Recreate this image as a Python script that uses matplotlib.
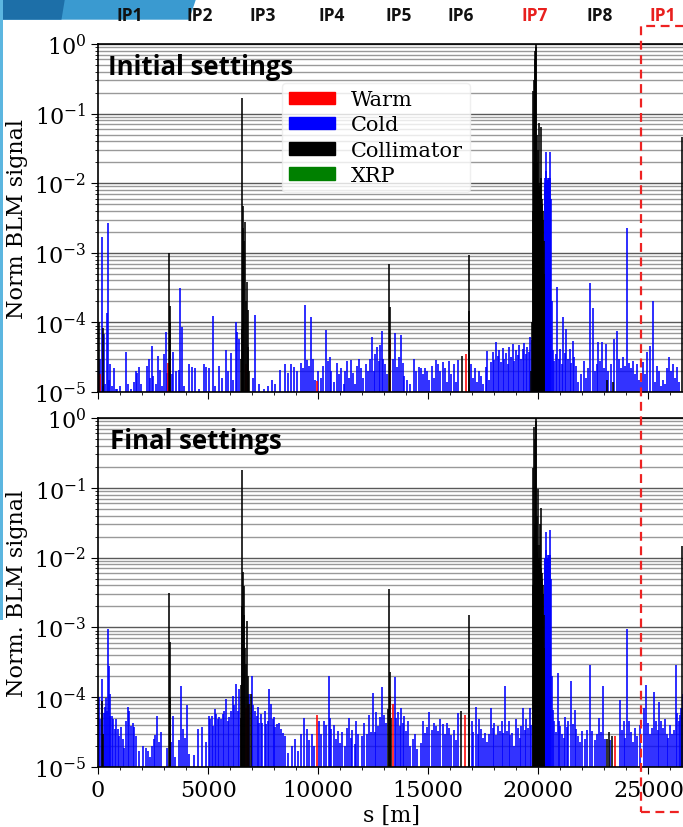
import matplotlib
matplotlib.use("Agg")
import matplotlib.pyplot as plt
from matplotlib.patches import Patch, Rectangle, Polygon
from matplotlib.ticker import LogLocator, MultipleLocator

# -------------------------------------------
# Loss map data (s [m], normalised BLM signal)
# -------------------------------------------
init_cold_s = [40, 90, 170, 230, 270, 330, 395, 440, 490, 545, 620, 720, 800, 860, 1000,
               1270, 1360, 1520, 1650, 1720, 1790, 1860, 1950, 2220, 2300, 2380, 2440, 2520,
               2620, 2710, 2800, 2900, 3000, 3080, 3150, 3350, 3420, 3560, 3680, 3730, 3800,
               3900, 4120, 4250, 4400, 4580, 4800, 4900, 5050, 5210, 5330, 5500, 5620, 5800,
               5900, 6050, 6150, 6270, 6330, 6420, 7050, 7140, 7300, 7520, 7700, 7900, 8050,
               8250, 8500, 8650, 8780, 8900, 9050, 9200, 9300, 9410, 9500, 9600, 9680, 9760,
               9850, 10000, 10120, 10220, 10360, 10450, 10520, 10600, 10700, 10850, 10950,
               11050, 11150, 11230, 11300, 11400, 11500, 11580, 11650, 11750, 11850, 11950,
               12050, 12150, 12250, 12350, 12440, 12530, 12600, 12680, 12750, 12820, 12890,
               12960, 13050, 13130, 13400, 13500, 13580, 13650, 13770, 13850, 13920, 14050,
               14150, 14350, 14450, 14560, 14650, 14750, 14850, 14950, 15050, 15150, 15250,
               15350, 15450, 15550, 15650, 15750, 15850, 15950, 16050, 16150, 16250, 16350,
               16950, 17050, 17120, 17200, 17300, 17400, 17500, 17600, 17660, 17750, 17850,
               17920, 18000, 18080, 18150, 18230, 18300, 18380, 18450, 18520, 18600, 18680,
               18760, 18830, 18900, 18980, 19060, 19130, 19200, 19280, 19350, 19430, 19500,
               19570, 19630, 19690,
               20280, 20300, 20320, 20340, 20360, 20380, 20400, 20420, 20440, 20460, 20480,
               20500, 20520, 20545, 20570, 20600,
               20650, 20720, 20800, 20860, 20930, 21000, 21060, 21120, 21200, 21270, 21350,
               21420, 21490, 21560, 21640, 21720, 21800, 21950, 22060, 22150, 22250, 22360,
               22470, 22560, 22650, 22730, 22820, 22900, 22980, 23050, 23180, 23300, 23450,
               23590, 23680, 23760, 23850, 23950, 24030, 24100, 24200, 24280, 24380, 24480,
               24560, 24650, 24760, 24850, 24940, 25090, 25210, 25300, 25400, 25480, 25560,
               25650, 25750, 25850, 25950, 26030, 26120, 26200, 26300, 26400, 26600]
init_cold_v = [2.0e-5, 3.0e-5, 1.7e-3, 1.2e-5, 6.8e-5, 1.3e-5, 1.35e-4, 2.7e-3, 1.5e-5, 2.5e-5,
               1.2e-5, 2.2e-5, 1.1e-5, 1.1e-5, 1.2e-5,
               3.7e-5, 1.3e-5, 1.1e-5, 1.4e-5, 2.0e-5, 1.9e-5, 2.3e-5, 1.3e-5, 2.4e-5, 3.0e-5,
               1.6e-5, 4.6e-5, 1.7e-5, 1.3e-5, 3.3e-5, 2.1e-5, 1.2e-5, 3.5e-5, 7.3e-5, 1.9e-5,
               1.8e-5, 3.7e-5, 2.0e-5, 2.1e-5, 3.1e-4, 8.7e-5, 1.2e-5, 2.5e-5, 2.3e-5, 2.2e-5,
               1.1e-5, 2.5e-5, 2.3e-5, 2.2e-5, 1.24e-4, 1.2e-5, 2.4e-5, 1.6e-5, 4.0e-5, 2.0e-5,
               3.6e-5, 1.5e-5, 1.0e-4, 7.3e-5, 5.7e-5, 1.6e-5, 1.28e-4, 1.3e-5, 1.1e-5, 1.2e-5,
               1.5e-5, 1.3e-5, 2.1e-5, 2.5e-5, 1.9e-5, 2.5e-5, 2.3e-5, 2.0e-5, 2.6e-5, 2.2e-5,
               1.8e-4, 2.9e-5, 2.4e-5, 1.2e-4, 3.0e-5, 1.5e-5, 2.0e-5, 1.6e-5, 2.4e-5, 7.8e-5,
               2.8e-5, 3.2e-5, 2.0e-5, 1.4e-5, 2.6e-5, 1.8e-5, 2.2e-5, 1.3e-5, 2.0e-5, 2.8e-5,
               1.6e-5, 2.9e-5, 1.9e-5, 1.3e-5, 2.4e-5, 3.0e-5, 2.2e-5, 1.6e-5, 2.5e-5, 2.0e-5,
               3.0e-5, 6.2e-5, 2.0e-5, 3.5e-5, 4.5e-5, 2.8e-5, 4.8e-5, 7.5e-5, 3.0e-5, 2.5e-5,
               1.8e-5, 3.0e-5, 7.0e-5, 2.3e-5, 3.2e-5, 6.6e-5, 2.6e-5, 1.7e-5, 1.5e-5, 1.3e-5,
               3.0e-5, 2.0e-5, 2.3e-5, 2.2e-5, 1.8e-5, 2.2e-5, 2.0e-5, 1.5e-5, 2.4e-5, 1.6e-5,
               2.9e-5, 2.5e-5, 2.0e-5, 2.7e-5, 2.2e-5, 1.4e-5, 2.8e-5, 1.8e-5, 2.5e-5, 1.4e-5,
               2.9e-5, 2.5e-5, 1.6e-5, 2.2e-5, 1.4e-5, 2.0e-5, 1.7e-5, 1.3e-5, 2.3e-5, 3.9e-5,
               1.5e-5, 2.7e-5, 3.8e-5, 2.9e-5, 5.2e-5, 3.3e-5, 4.0e-5, 2.7e-5, 4.3e-5, 3.0e-5,
               3.6e-5, 2.5e-5, 4.5e-5, 3.2e-5, 4.9e-5, 2.8e-5, 4.0e-5, 3.4e-5, 4.8e-5, 3.0e-5,
               4.2e-5, 5.0e-5, 3.5e-5, 4.5e-5, 3.8e-5, 6.2e-5, 5.5e-5,
               8.0e-3, 1.2e-2, 1.0e-2, 1.5e-2, 2.8e-2, 1.0e-2, 1.1e-2, 1.2e-2, 1.0e-2, 1.1e-2,
               1.2e-2, 1.1e-2, 1.2e-2, 2.8e-2, 6.0e-3, 2.0e-4,
               4.0e-5, 2.8e-5, 3.5e-5, 3.2e-4, 3.0e-5, 4.2e-5, 2.5e-5, 1.2e-4, 3.6e-5, 8.0e-5,
               3.0e-5, 4.2e-5, 2.6e-5, 5.4e-5, 3.2e-5, 2.4e-5, 1.4e-5, 1.8e-5, 2.8e-5, 1.6e-5,
               2.2e-5, 3.7e-4, 1.6e-4, 2.0e-5, 2.5e-5, 5.2e-5, 2.8e-5, 5.2e-5, 2.2e-5, 4.9e-5,
               2.0e-5, 2.5e-5, 5.7e-5, 7.5e-5, 3.0e-5, 2.2e-5, 3.2e-5, 2.4e-5, 2.3e-3, 2.6e-5,
               2.2e-5, 2.8e-5, 1.8e-5, 2.5e-5, 1.5e-5, 1.4e-5, 2.7e-5, 1.8e-5, 3.8e-5, 4.6e-5,
               2.0e-4, 1.4e-5, 2.4e-5, 2.0e-5, 1.2e-5, 1.5e-5, 1.3e-5, 2.2e-5, 3.2e-5, 2.0e-5,
               2.5e-5, 1.6e-5, 2.3e-5, 1.4e-5, 3.0e-4]

init_coll_s = [60, 210, 3240, 3265, 3290,
               6480, 6520, 6545, 6580, 6605, 6640, 6680, 6710, 6760, 6800, 6830, 6870,
               13210, 13240, 16530, 16830, 16860,
               19650, 19700, 19740, 19760, 19780, 19800, 19820, 19840, 19860, 19880, 19900,
               19920, 19940, 19960, 19980, 20000, 20020, 20040, 20060, 20080, 20100, 20120,
               20140, 20160, 20180, 20200, 20220, 20240, 20260,
               23120, 23400, 26530]
init_coll_v = [1.0e-4, 8.3e-5, 1.0e-3, 1.7e-4, 1.0e-4,
               3.0e-5, 8.0e-5, 0.17, 2.3e-3, 4.7e-3, 1.5e-3, 2.8e-3, 2.0e-4, 3.8e-4, 1.5e-4,
               4.5e-5, 2.0e-5,
               6.9e-4, 1.66e-4, 3.3e-5, 9.3e-4, 1.45e-4,
               2.0e-5, 1.0e-4, 4.0e-3, 0.21, 1.5e-2, 0.3, 2.0e-2, 0.6, 0.8, 1.0, 0.9,
               5.0e-2, 2.0e-2, 1.2e-2, 1.0e-2, 3.0e-2, 7.3e-2, 9.0e-3, 8.0e-3, 1.0e-2, 7.0e-3,
               1.2e-2, 6.5e-2, 6.0e-3, 5.0e-3, 4.0e-3, 3.0e-3, 1.5e-3, 5.0e-4,
               1.5e-5, 1.4e-5, 4.6e-2]

init_warm_s = [90, 3180, 6700, 9940, 13270, 16700]
init_warm_v = [1.8e-5, 2.6e-5, 2.5e-5, 1.45e-5, 5.8e-5, 3.5e-5]

final_cold_s = [40, 90, 170, 260, 320, 380, 420, 455, 500, 530, 560, 620, 700, 760, 820, 890,
                950, 1060, 1140, 1200, 1270, 1340, 1420, 1480, 1570, 1630, 1710, 1860, 2060,
                2160, 2290, 2360, 2450, 2530, 2600, 2660, 2770, 2860, 3120, 3330, 3390, 3500,
                3660, 3760, 3850, 3970, 4060, 4120, 4380, 4550, 4730, 4910, 5030, 5090, 5180,
                5240, 5300, 5360, 5440, 5510, 5590, 5660, 5740, 5820, 5890, 5970, 6040, 6120,
                6180, 6270, 6340, 6420, 6800, 6870, 6990, 7050, 7140, 7200, 7270, 7330, 7400,
                7460, 7570, 7630, 7700, 7780, 7870, 7930, 8000, 8050, 8130, 8220, 8300, 8420,
                8500, 8650, 8800, 8950, 9100, 9200, 9360, 9500, 9600, 9700, 9800, 10050, 10150,
                10260, 10350, 10470, 10550, 10600, 10700, 10800, 10900, 11000, 11100, 11200,
                11300, 11400, 11480, 11550, 11650, 11730, 11820, 12000, 12100, 12200, 12300,
                12400, 12480, 12560, 12640, 12720, 12800, 12920, 12990, 13060, 13480, 13550,
                13620, 13700, 13780, 13850, 13920, 14000, 14080, 14180, 14300, 14400, 14500,
                14650, 14750, 14850, 14950, 15050, 15150, 15250, 15350, 15450, 15550, 15650,
                15750, 15850, 15950, 16050, 16150, 16250, 16350, 16980, 17050, 17170, 17250,
                17320, 17400, 17500, 17560, 17650, 17750, 17850, 17930, 18000, 18080, 18160,
                18250, 18330, 18400, 18470, 18560, 18650, 18720, 18800, 18900, 18980, 19060,
                19150, 19230, 19300, 19380, 19450, 19530, 19620, 19680,
                20280, 20300, 20320, 20340, 20360, 20380, 20400, 20420, 20440, 20460, 20480,
                20500, 20520, 20545, 20570, 20600,
                20650, 20720, 20780, 20880, 20950, 21000, 21080, 21150, 21220, 21300, 21360,
                21490, 21560, 21650, 21720, 21800, 21900, 21990, 22100, 22200, 22330, 22420,
                22550, 22660, 22760, 22850, 22940, 23020, 23250, 23700, 23800, 23880, 23950,
                24030, 24120, 24200, 24290, 24400, 24500, 24620, 24780, 24890, 24980, 25060,
                25150, 25240, 25330, 25420, 25500, 25580, 25660, 25750, 25820, 25900, 25980,
                26060, 26150, 26230, 26300, 26380, 26440, 26500, 26580]
final_cold_v = [1.0e-4, 4.9e-5, 1.8e-4, 6.0e-5, 7.2e-5, 9.6e-5, 6.4e-5, 9.5e-4, 2.8e-4, 5.4e-5,
                1.1e-4, 5.3e-5, 4.9e-5, 3.5e-5, 4.9e-5, 3.5e-5, 2.8e-5, 3.7e-5, 2.5e-5, 1.9e-5,
                4.6e-5, 7.2e-5, 6.4e-5, 3.9e-5, 4.3e-5, 3.7e-5, 2.8e-5, 1.7e-5, 2.0e-5, 1.9e-5,
                1.7e-5, 1.4e-5, 2.0e-5, 2.5e-5, 2.9e-5, 5.4e-5, 2.3e-5, 3.2e-5, 1.9e-5, 2.3e-5,
                5.4e-5, 1.4e-5, 2.4e-5, 1.43e-4, 3.5e-5, 2.6e-5, 7.7e-5, 1.55e-5, 1.5e-5, 3.5e-5,
                3.7e-5, 2.3e-5, 5.4e-5, 4.9e-5, 5.4e-5, 3.9e-5, 6.8e-5, 5.8e-5, 4.9e-5, 5.2e-5,
                4.9e-5, 5.8e-5, 6.4e-5, 9.4e-5, 4.6e-5, 5.2e-5, 6.4e-5, 1.05e-4, 7.6e-5, 1.55e-4,
                6.4e-5, 1.3e-4, 7.6e-5, 1.1e-4, 2.0e-4, 7.6e-5, 6.4e-5, 5.4e-5, 7.2e-5, 4.3e-5,
                5.8e-5, 4.3e-5, 6.4e-5, 4.1e-5, 4.6e-5, 1.3e-4, 8.0e-5, 4.9e-5, 5.2e-5, 3.7e-5,
                4.1e-5, 4.3e-5, 3.5e-5, 3.1e-5, 2.8e-5, 1.6e-5, 2.0e-5, 2.5e-5, 1.7e-5, 3.0e-5,
                5.0e-5, 3.5e-5, 2.4e-5, 3.0e-5, 2.0e-5, 4.5e-5, 3.0e-5, 4.5e-5, 4.0e-5, 2.0e-4,
                5.0e-5, 3.5e-5, 4.0e-5, 2.5e-5, 3.3e-5, 2.2e-5, 3.2e-5, 2.0e-5, 3.6e-5, 5.1e-5,
                2.6e-5, 3.4e-5, 2.1e-5, 4.5e-5, 3.0e-5, 2.8e-5, 4.2e-5, 3.0e-5, 5.5e-5, 3.2e-5,
                1.15e-4, 3.2e-5, 6.2e-5, 3.9e-5, 5.2e-5, 1.4e-4, 5.6e-5, 4.3e-5, 1.95e-4, 5.0e-5,
                6.1e-5, 3.9e-5, 7.0e-5, 4.2e-5, 5.4e-5, 3.3e-5, 4.5e-5, 2.0e-5, 2.5e-5, 3.0e-5,
                1.8e-5, 2.2e-5, 4.5e-5, 3.1e-5, 3.8e-5, 6.1e-5, 3.4e-5, 4.3e-5, 3.9e-5, 3.3e-5,
                4.8e-5, 4.1e-5, 3.0e-5, 4.3e-5, 3.6e-5, 2.9e-5, 3.4e-5, 2.4e-5, 5.9e-5, 4.5e-5,
                3.2e-5, 7.2e-5, 3.0e-5, 4.8e-5, 3.5e-5, 2.6e-5, 3.1e-5, 2.3e-5, 3.0e-5, 6.9e-5,
                3.6e-5, 4.3e-5, 2.9e-5, 3.9e-5, 3.3e-5, 4.5e-5, 3.1e-5, 1.46e-4, 3.3e-5, 4.5e-5,
                2.9e-5, 3.1e-5, 2.0e-5, 4.8e-5, 3.6e-5, 2.6e-5, 3.9e-5, 7.0e-5, 3.4e-5, 4.8e-5,
                3.6e-5, 7.0e-5, 4.0e-5,
                7.0e-3, 1.0e-2, 9.5e-3, 1.3e-2, 2.3e-2, 9.5e-3, 1.0e-2, 1.1e-2, 9.5e-3, 1.0e-2,
                1.1e-2, 1.0e-2, 1.1e-2, 2.5e-2, 5.0e-3, 2.0e-4,
                6.5e-5, 4.5e-5, 3.2e-5, 2.2e-4, 4.5e-5, 3.9e-5, 3.0e-5, 2.6e-5, 5.2e-5, 3.7e-5,
                4.5e-5, 1.7e-4, 4.1e-5, 6.5e-5, 3.5e-5, 2.8e-5, 2.3e-5, 3.3e-5, 2.5e-5, 3.4e-5,
                2.9e-4, 3.3e-5, 2.4e-5, 3.0e-5, 5.0e-5, 3.2e-5, 1.46e-4, 2.5e-5, 2.4e-5, 9.1e-5,
                3.4e-5, 4.5e-5, 2.6e-5, 9.5e-4, 4.5e-5, 3.2e-5, 2.3e-5, 3.6e-5, 2.8e-5, 4.0e-5,
                6.9e-5, 1.5e-4, 4.2e-5, 3.0e-5, 3.6e-5, 1.2e-4, 4.5e-5, 3.4e-5, 8.5e-5, 4.6e-5,
                3.6e-5, 4.8e-5, 3.0e-5, 2.6e-5, 4.0e-5, 3.0e-5, 3.4e-5, 2.9e-4, 6.0e-5, 4.5e-5,
                5.5e-5, 7.0e-5, 1.1e-4]

final_coll_s = [170, 230, 3240, 3265, 3290,
                6480, 6510, 6530, 6560, 6580, 6610, 6640, 6680, 6720, 6760, 6800, 6860, 6940,
                13150, 13210, 13240, 13320, 16500, 16830, 16860,
                19740, 19770, 19790, 19820, 19840, 19860, 19880, 19900, 19920, 19940, 19960,
                19980, 20000, 20020, 20040, 20060, 20090, 20110, 20140, 20160, 20180, 20200,
                20220, 20240, 20260,
                23120, 23200, 23330, 26530]
final_coll_v = [8.9e-5, 3.0e-5, 3.1e-3, 6.1e-4, 1.0e-4,
                5.0e-5, 1.5e-4, 0.18, 2.0e-3, 6.2e-3, 1.5e-3, 3.9e-3, 5.0e-4, 3.0e-4, 1.25e-3,
                2.0e-4, 8.0e-5, 1.1e-4,
                6.8e-5, 3.5e-3, 2.3e-4, 5.0e-5, 6.4e-5, 1.5e-3, 2.5e-4,
                4.0e-3, 0.19, 2.0e-2, 0.74, 3.0e-2, 0.5, 0.9, 1.0, 0.04, 1.5e-2, 1.2e-2,
                1.0e-2, 9.6e-2, 1.5e-2, 1.0e-2, 8.0e-3, 3.0e-2, 7.0e-3, 5.2e-2, 6.0e-3, 5.0e-3,
                4.0e-3, 3.0e-3, 1.5e-3, 5.0e-4,
                2.5e-5, 3.2e-5, 2.8e-5, 1.48e-2]

final_warm_s = [6700, 6830, 9940, 13270, 13420, 16650, 23500]
final_warm_v = [7.0e-5, 8.0e-5, 5.6e-5, 1.05e-4, 8.0e-5, 5.6e-5, 2.8e-5]

ip_labels = ["IP1", "IP2", "IP3", "IP4", "IP5", "IP6", "IP7", "IP8", "IP1"]
ip_colors = ["#111111"] * 6 + ["#e8201e", "#111111", "#e8201e"]
ip_xfrac = [0.190, 0.293, 0.385, 0.486, 0.583, 0.675, 0.783, 0.878, 0.971]

C_LHC = 26659.0
Y_MIN = 1e-5

plt.rcParams['font.family'] = 'DejaVu Serif'
plt.rcParams['mathtext.fontset'] = 'dejavuserif'


def draw_panel(ax, cold_s, cold_v, warm_s, warm_v, coll_s, coll_v):
    ax.vlines(cold_s, Y_MIN, cold_v, colors='#0000ff', lw=1.15)
    ax.vlines(warm_s, Y_MIN, warm_v, colors='#ff0000', lw=1.15)
    ax.vlines(coll_s, Y_MIN, coll_v, colors='#000000', lw=1.15)
    ax.set_yscale('log')
    ax.set_ylim(Y_MIN, 1.0)
    ax.set_xlim(0, C_LHC)
    ax.yaxis.set_major_locator(LogLocator(base=10, numticks=10))
    ax.yaxis.set_minor_locator(LogLocator(base=10, subs=range(2, 10), numticks=50))
    ax.xaxis.set_major_locator(MultipleLocator(5000))
    ax.xaxis.set_minor_locator(MultipleLocator(1000))
    ax.grid(True, which='major', axis='y', color='0.35', lw=1.0)
    ax.grid(True, which='minor', axis='y', color='0.6', lw=1.0)
    ax.set_axisbelow(True)
    ax.tick_params(axis='both', which='major', labelsize=16, length=5)
    ax.tick_params(axis='both', which='minor', length=2.5)
    for sp in ax.spines.values():
        sp.set_linewidth(1.2)


fig = plt.figure(figsize=(6.83, 8.28), dpi=100)

# slide background decoration (top-left corner)
fig.add_artist(Polygon([(0, 1), (0.287, 1), (0.277, 0.975), (0, 0.975)],
                       closed=True, transform=fig.transFigure, color='#3a9ad0', lw=0))
fig.add_artist(Polygon([(0, 1), (0.095, 1), (0.09, 0.975), (0, 0.975)],
                       closed=True, transform=fig.transFigure, color='#1d6fa8', lw=0))
fig.add_artist(Rectangle((0, 0.25), 0.005, 0.75, transform=fig.transFigure,
                         color='#5cb6e0', lw=0))

ax1 = fig.add_axes([0.1435, 0.5254, 0.8594, 0.4203])
ax2 = fig.add_axes([0.1435, 0.0725, 0.8594, 0.4215])

draw_panel(ax1, init_cold_s, init_cold_v, init_warm_s, init_warm_v, init_coll_s, init_coll_v)
draw_panel(ax2, final_cold_s, final_cold_v, final_warm_s, final_warm_v, final_coll_s, final_coll_v)

ax1.tick_params(labelbottom=False)
ax1.set_ylabel('Norm BLM signal', fontsize=16)
ax2.set_ylabel('Norm. BLM signal', fontsize=16)
ax2.set_xlabel('s [m]', fontsize=16, labelpad=2)

handles = [Patch(color='#ff0000'), Patch(color='#0000ff'), Patch(color='#000000'),
           Patch(color='#008000')]
leg = ax1.legend(handles, ['Warm', 'Cold', 'Collimator', 'XRP'], loc='upper left',
                 bbox_to_anchor=(0.3135, 0.888), prop={'family': 'DejaVu Serif', 'size': 15},
                 handlelength=2.2, handleheight=0.55, handletextpad=0.75, labelspacing=0.3,
                 borderpad=0.35, borderaxespad=0.0, framealpha=0.8)
leg.get_frame().set_edgecolor('0.92')

ax1.text(0.017, 0.975, 'Initial settings', transform=ax1.transAxes, va='top',
         fontsize=18.5, fontweight='bold', family='Open Sans')
ax2.text(0.020, 0.975, 'Final settings', transform=ax2.transAxes, va='top',
         fontsize=18.5, fontweight='bold', family='Open Sans')

for lab, col, xf in zip(ip_labels, ip_colors, ip_xfrac):
    fig.text(xf, 0.981, lab, color=col, fontsize=12.5, fontweight='bold',
             family='Open Sans', ha='center', va='center')

# dashed red box around the last IP1
fig.add_artist(Rectangle((0.9385, 0.018), 0.1, 0.949, transform=fig.transFigure,
                         fill=False, edgecolor='#ee2222', lw=1.6, ls=(0, (4, 2.5)),
                         clip_on=False))

fig.savefig('out.png', dpi=100)
